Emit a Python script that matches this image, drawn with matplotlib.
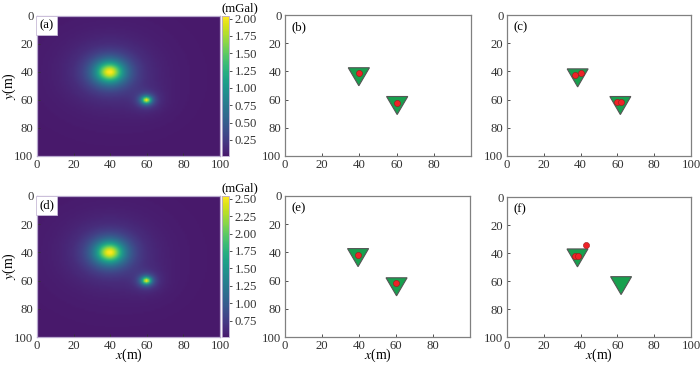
import numpy as np
import matplotlib
matplotlib.use("Agg")
import matplotlib.pyplot as plt
from matplotlib.patches import Polygon
from matplotlib.colors import ListedColormap

plt.rcParams['font.family'] = ['Liberation Serif', 'DejaVu Serif']
plt.rcParams['mathtext.fontset'] = 'stix'
plt.rcParams['font.size'] = 9

# ---- data ----
# gravity sources (sphere models) used for the anomaly maps
src_x = [39.5, 59.5]
src_y = [40.0, 60.0]
src_depth = [9.0, 3.0]
src_peak = [2.03, 1.95]
field_offset = [0.015, 0.515]      # (a), (d)
cb_ticks_a = [0.25, 0.50, 0.75, 1.00, 1.25, 1.50, 1.75, 2.00]
cb_ticks_d = [0.75, 1.00, 1.25, 1.50, 1.75, 2.00, 2.25, 2.50]

# true-model triangles (centre x, top-edge y) per panel
tri_b = [(39.7, 37.4), (60.3, 57.8)]
tri_c = [(38.4, 38.2), (61.6, 57.8)]
tri_e = [(39.5, 37.3), (60.3, 58.0)]
tri_f = [(38.3, 37.1), (62.0, 56.9)]
# recovered sources (x, y) per panel
dots_b = [(39.6, 41.2), (60.4, 62.1)]
dots_c = [(36.9, 42.2), (40.0, 41.0), (59.9, 61.6), (61.9, 61.6)]
dots_e = [(39.6, 41.5), (60.2, 62.0)]
dots_f = [(36.9, 41.9), (38.7, 41.9), (43.0, 34.0)]

ticks_full = [0, 20, 40, 60, 80, 100]
ticks_short = [0, 20, 40, 60, 80]

TRI_HW = 5.7
TRI_H = 12.8
FS = 9.2

cmap = ListedColormap(plt.get_cmap('viridis')(np.linspace(0.07, 1.0, 256)))

fig = plt.figure(figsize=(7.0, 3.68), dpi=100)

W, H = 700.0, 368.0
def rect(l, t, r, b):
    return [l / W, (H - b) / H, (r - l) / W, (b - t) / H]

spine_col = '#808080'

def style_ax(ax, xt):
    ax.set_xlim(0, 100)
    ax.set_ylim(100, 0)
    ax.set_xticks(xt)
    ax.set_yticks(ticks_full)
    ax.tick_params(direction='in', length=2, width=0.6, pad=2.5, colors='#333333',
                   labelsize=FS)
    for s in ax.spines.values():
        s.set_color(spine_col)
        s.set_linewidth(0.9)

def xlab(ax, bottom_px, h_px):
    ax.set_xlabel(r'$x$(m)', fontsize=10)
    ax.xaxis.set_label_coords(0.5, (bottom_px - 347.0) / h_px)

def field(offset):
    g = np.linspace(0.5, 99.5, 100)
    X, Y = np.meshgrid(g, g)
    F = np.full_like(X, offset)
    for sx, sy, z, a in zip(src_x, src_y, src_depth, src_peak):
        r2 = (X - sx) ** 2 + (Y - sy) ** 2
        F += a * (1 + r2 / z ** 2) ** -1.5
    return F

def map_panel(t, b, offset, cbt, label):
    ax = fig.add_axes(rect(37, t, 220, b))
    im = ax.imshow(field(offset), cmap=cmap, extent=[0, 100, 100, 0],
                   aspect='auto', interpolation='bilinear')
    style_ax(ax, ticks_full)
    for s in ax.spines.values():
        s.set_color('#b9a9cf')
    ax.text(0.012, 0.975, label, transform=ax.transAxes, va='top', ha='left',
            fontsize=FS,
            bbox=dict(boxstyle='square,pad=0.25', fc='white', ec='#c8bcd8', lw=0.6))
    ax.set_ylabel(r'$y$(m)', fontsize=10)
    ax.yaxis.set_label_coords((18 - 37) / 183.0, 0.5)
    cax = fig.add_axes(rect(222, t, 229, b))
    cb = fig.colorbar(im, cax=cax, ticks=cbt)
    cb.ax.set_yticklabels(['%.2f' % v for v in cbt])
    cb.ax.tick_params(length=2, width=0.6, pad=2, labelsize=FS, colors='#333333')
    cb.outline.set_edgecolor('#b9a9cf')
    cb.outline.set_linewidth(0.6)
    cax.text(0.0, 1.015, '(mGal)', transform=cax.transAxes, ha='left', va='bottom',
             fontsize=FS)
    return ax

def src_panel(l, t, r, b, tris, dots, xt, label):
    ax = fig.add_axes(rect(l, t, r, b))
    style_ax(ax, xt)
    for cx, ty in tris:
        poly = Polygon([(cx - TRI_HW, ty), (cx + TRI_HW, ty), (cx, ty + TRI_H)],
                       closed=True, fc='#17a04e', ec='#555555', lw=0.8, zorder=2)
        ax.add_patch(poly)
    if dots:
        dx = [d[0] for d in dots]
        dy = [d[1] for d in dots]
        ax.plot(dx, dy, 'o', ms=4.4, mfc='#ee2228', mec='#9a1a1a', mew=0.4,
                ls='none', zorder=3)
    ax.text(0.035, 0.955, label, transform=ax.transAxes, va='top', ha='left',
            fontsize=FS)
    return ax

ax_a = map_panel(16, 156, field_offset[0], cb_ticks_a, '(a)')
ax_d = map_panel(196, 337, field_offset[1], cb_ticks_d, '(d)')
xlab(ax_d, 337, 141)

src_panel(285, 15, 471, 156, tri_b, dots_b, ticks_short, '(b)')
src_panel(507, 15, 691, 156, tri_c, dots_c, ticks_full, '(c)')
ax_e = src_panel(285, 196, 470, 337, tri_e, dots_e, ticks_short, '(e)')
ax_f = src_panel(507, 197, 691, 337, tri_f, dots_f, ticks_full, '(f)')
xlab(ax_e, 337, 141)
xlab(ax_f, 337, 140)

fig.savefig('out.png', dpi=100)
